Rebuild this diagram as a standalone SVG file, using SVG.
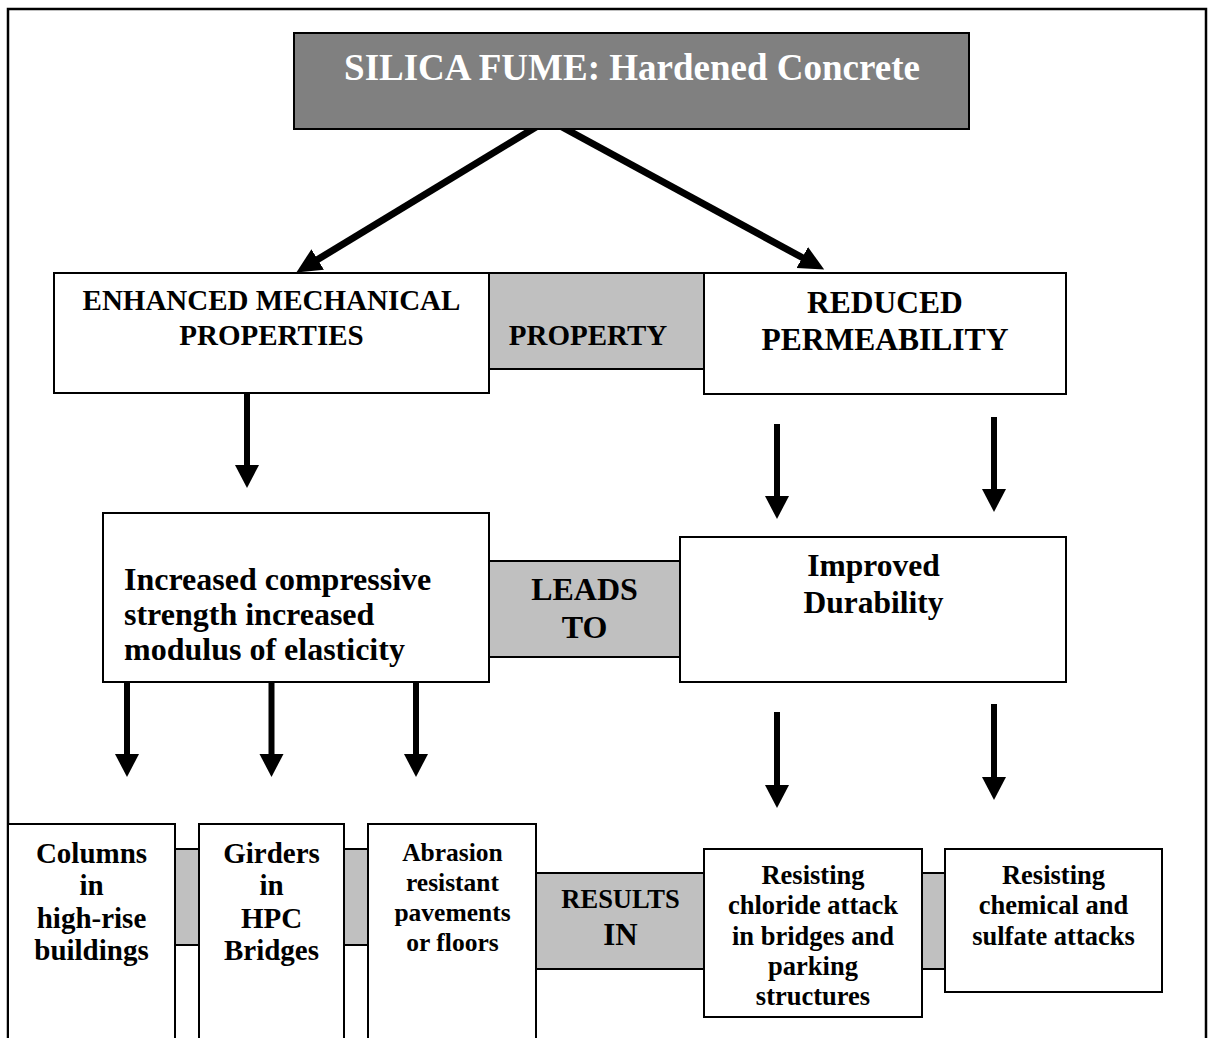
<svg xmlns="http://www.w3.org/2000/svg" width="1213" height="1038" viewBox="0 0 1213 1038">
<defs>
<style>
.box{fill:#ffffff;stroke:#000;stroke-width:2}
.band{fill:#c0c0c0;stroke:#000;stroke-width:2}
.title{fill:#808080;stroke:#000;stroke-width:2}
text{font-family:"Liberation Serif","Times New Roman",serif;font-weight:bold;fill:#000;text-anchor:middle}
.diag{stroke:#000;stroke-width:7;fill:none}
.vert{stroke:#000;stroke-width:6;fill:none}
</style>
<marker id="hd" markerUnits="userSpaceOnUse" markerWidth="26" markerHeight="26" refX="2" refY="12" orient="auto">
<path d="M0,0 L25,12 L0,24 z" fill="#000"/>
</marker>
<marker id="hv" markerUnits="userSpaceOnUse" markerWidth="26" markerHeight="26" refX="2" refY="12" orient="auto">
<path d="M0,0 L23,12 L0,24 z" fill="#000"/>
</marker>
</defs>
<rect width="1213" height="1038" fill="#fff"/>
<path d="M8,1045 V9 H1206 V1045" fill="none" stroke="#000" stroke-width="2.5"/>

<g id="connectors">
<line class="diag" x1="536" y1="127" x2="316" y2="260.5" marker-end="url(#hd)"/>
<line class="diag" x1="562" y1="127" x2="804" y2="258.5" marker-end="url(#hd)"/>
<line class="vert" x1="247" y1="393" x2="247" y2="467" marker-end="url(#hv)"/>
<line class="vert" x1="777" y1="424" x2="777" y2="498" marker-end="url(#hv)"/>
<line class="vert" x1="994" y1="417" x2="994" y2="491" marker-end="url(#hv)"/>
<line class="vert" x1="127" y1="682" x2="127" y2="756" marker-end="url(#hv)"/>
<line class="vert" x1="271.5" y1="682" x2="271.5" y2="756" marker-end="url(#hv)"/>
<line class="vert" x1="416" y1="682" x2="416" y2="756" marker-end="url(#hv)"/>
<line class="vert" x1="777" y1="712" x2="777" y2="787" marker-end="url(#hv)"/>
<line class="vert" x1="994" y1="704" x2="994" y2="779" marker-end="url(#hv)"/>
</g>

<g id="title">
<rect class="title" x="294" y="33" width="675" height="96"/>
<text x="632" y="80" font-size="37" style="fill:#fff">SILICA FUME: Hardened Concrete</text>
</g>

<g id="property">
<rect class="band" x="489" y="273" width="215" height="96"/>
<text x="588" y="345" font-size="29">PROPERTY</text>
</g>
<g id="enhanced">
<rect class="box" x="54" y="273" width="435" height="120"/>
<text x="271.5" y="310" font-size="29">ENHANCED MECHANICAL</text>
<text x="271.5" y="345" font-size="29">PROPERTIES</text>
</g>
<g id="reduced">
<rect class="box" x="704" y="273" width="362" height="121"/>
<text x="885" y="313" font-size="31.5">REDUCED</text>
<text x="885" y="350" font-size="31.5">PERMEABILITY</text>
</g>

<g id="leads-to">
<rect class="band" x="489" y="561" width="191" height="96"/>
<text x="584.5" y="600" font-size="32">LEADS</text>
<text x="584.5" y="638" font-size="32">TO</text>
</g>
<g id="increased">
<rect class="box" x="103" y="513" width="386" height="169"/>
<text x="124" y="590" font-size="32" style="text-anchor:start">Increased compressive</text>
<text x="124" y="625" font-size="32" style="text-anchor:start">strength increased</text>
<text x="124" y="660" font-size="32" style="text-anchor:start">modulus of elasticity</text>
</g>
<g id="improved">
<rect class="box" x="680" y="537" width="386" height="145"/>
<text x="873.5" y="576" font-size="31.5">Improved</text>
<text x="873.5" y="613" font-size="31.5">Durability</text>
</g>

<g id="band-1">
<rect class="band" x="175" y="849" width="24" height="96"/>
</g>
<g id="band-2">
<rect class="band" x="344" y="849" width="24" height="96"/>
</g>
<g id="results-in">
<rect class="band" x="536" y="873" width="168" height="96"/>
<text x="620.5" y="908" font-size="26.5">RESULTS</text>
<text x="620.5" y="945" font-size="31">IN</text>
</g>
<g id="band-3">
<rect class="band" x="922" y="873" width="23" height="96"/>
</g>

<g id="columns">
<rect class="box" x="8" y="824" width="167" height="230"/>
<text x="91.5" y="863" font-size="29">Columns</text>
<text x="91.5" y="895" font-size="29">in</text>
<text x="91.5" y="928" font-size="29">high-rise</text>
<text x="91.5" y="960" font-size="29">buildings</text>
</g>
<g id="girders">
<rect class="box" x="199" y="824" width="145" height="230"/>
<text x="271.5" y="863" font-size="29">Girders</text>
<text x="271.5" y="895" font-size="29">in</text>
<text x="271.5" y="928" font-size="29">HPC</text>
<text x="271.5" y="960" font-size="29">Bridges</text>
</g>
<g id="abrasion">
<rect class="box" x="368" y="824" width="168" height="230"/>
<text x="452.5" y="861" font-size="25.5">Abrasion</text>
<text x="452.5" y="891" font-size="25.5">resistant</text>
<text x="452.5" y="921" font-size="25.5">pavements</text>
<text x="452.5" y="951" font-size="25.5">or floors</text>
</g>
<g id="chloride">
<rect class="box" x="704" y="849" width="218" height="168"/>
<text x="813" y="884" font-size="26.5">Resisting</text>
<text x="813" y="914" font-size="26.5">chloride attack</text>
<text x="813" y="945" font-size="26.5">in bridges and</text>
<text x="813" y="975" font-size="26.5">parking</text>
<text x="813" y="1005" font-size="26.5">structures</text>
</g>
<g id="chemical">
<rect class="box" x="945" y="849" width="217" height="143"/>
<text x="1053.5" y="884" font-size="26.5">Resisting</text>
<text x="1053.5" y="914" font-size="26.5">chemical and</text>
<text x="1053.5" y="945" font-size="26.5">sulfate attacks</text>
</g>
</svg>
